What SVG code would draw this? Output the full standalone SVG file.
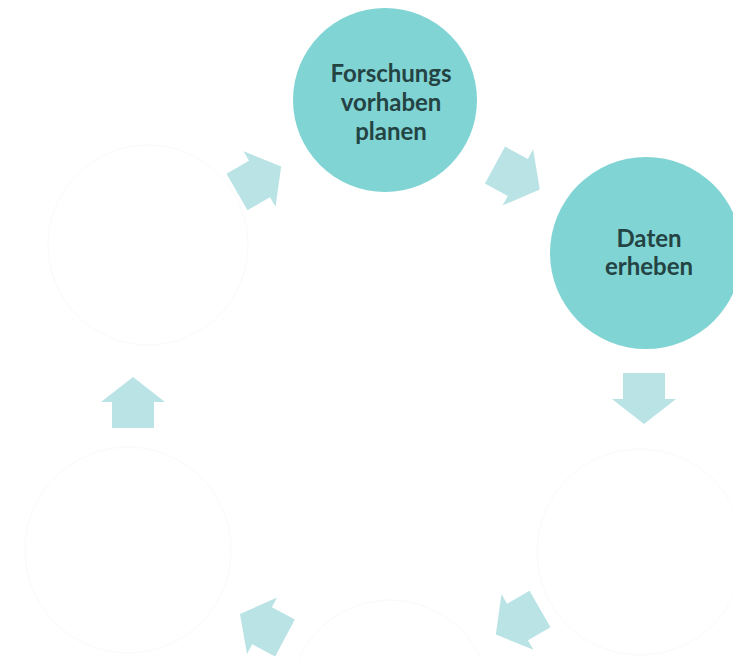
<svg xmlns="http://www.w3.org/2000/svg" width="733" height="659" viewBox="0 0 733 659">
  <defs>
    <style>
      .teal { fill: #81d4d4; }
      .ghost { fill: #ffffff; stroke: #f7fbfb; stroke-width: 1; }
      .lbl { font-family: Lato, "Open Sans", "Liberation Sans", sans-serif; font-weight: 700; font-size: 24px; fill: #244444; text-anchor: middle; }
      .arr { fill: #b9e3e5; }
    </style>
    <path id="blockArrow" d="M0,-21 L26,-21 L26,-32 L51,0 L26,32 L26,21 L0,21 Z"/>
  </defs>
  <rect width="733" height="659" fill="#ffffff"/>

  <g id="ghost-nodes">
    <g id="node-left-top"><circle class="ghost" cx="148" cy="245" r="100"/></g>
    <g id="node-left-bottom"><circle class="ghost" cx="128" cy="550" r="103"/></g>
    <g id="node-bottom"><circle class="ghost" cx="390" cy="700" r="100"/></g>
    <g id="node-right-bottom"><circle class="ghost" cx="640" cy="552" r="103"/></g>
  </g>

  <g id="node-planen">
    <circle class="teal" cx="385" cy="100" r="92"/>
    <text class="lbl" x="391" y="82">Forschungs</text>
    <text class="lbl" x="391" y="111">vorhaben</text>
    <text class="lbl" x="391" y="140">planen</text>
  </g>

  <g id="node-erheben">
    <circle class="teal" cx="646" cy="253" r="96"/>
    <text class="lbl" x="649" y="247">Daten</text>
    <text class="lbl" x="649" y="275">erheben</text>
  </g>

  <g id="connectors">
    <use href="#blockArrow" class="arr" transform="translate(237,192) rotate(-30)"/>
    <use href="#blockArrow" class="arr" transform="translate(495,165) rotate(28.6)"/>
    <use href="#blockArrow" class="arr" transform="translate(644,373) rotate(90)"/>
    <use href="#blockArrow" class="arr" transform="translate(540,609) rotate(150)"/>
    <use href="#blockArrow" class="arr" transform="translate(285,638) rotate(208)"/>
    <use href="#blockArrow" class="arr" transform="translate(133,428) rotate(-90)"/>
  </g>
</svg>
